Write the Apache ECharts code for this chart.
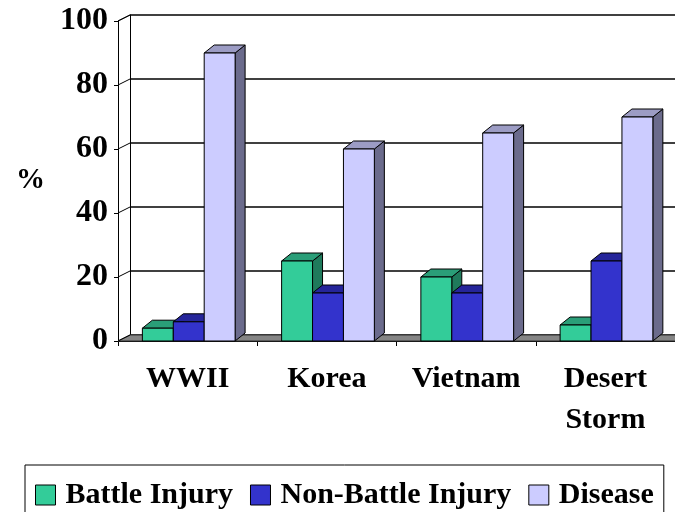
<!DOCTYPE html>
<html><head><meta charset="utf-8">
<script src="https://cdn.jsdelivr.net/npm/echarts@6/dist/echarts.min.js"></script>
<style>html,body{margin:0;padding:0;background:#fff}#c{width:675px;height:512px}</style>
</head><body><div id="c"></div>
<script>
// ---- data ----
const categories = ['WWII', 'Korea', 'Vietnam', 'Desert Storm'];
const seriesNames = ['Battle Injury', 'Non-Battle Injury', 'Disease'];
const battleInjury = [4, 25, 20, 5];
const nonBattleInjury = [6, 15, 15, 25];
const disease = [90, 60, 65, 70];
const yTicks = [0, 20, 40, 60, 80, 100];
const yAxisTitle = '%';

// ---- styles ----
const FONT = '"Liberation Serif", "Times New Roman", serif';
const palette = [
  { front: '#33CC99', top: '#2A9E78', side: '#1F7A5C' },
  { front: '#3333CC', top: '#25259A', side: '#1A1A80' },
  { front: '#CCCCFF', top: '#9C9CC4', side: '#6B6B8C' }
];
const WALL_DX = 12, WALL_DY = -6;
const BAR_DX = 10, BAR_DY = -8;
const BAR_START = 0.175, BAR_W = 0.222;

const seriesValues = [battleInjury, nonBattleInjury, disease];

function barRenderer(k) {
  return function (params, api) {
    const cat = api.value(0), v = api.value(1);
    const base = api.coord([cat, 0]);
    const top = api.coord([cat, v]);
    const band = api.size([1, 0])[0];
    const w = band * BAR_W;
    const l = base[0] - band / 2 + band * (BAR_START + k * BAR_W);
    const r = l + w, yb = base[1], yt = top[1];
    const c = palette[k];
    const st = { stroke: '#000', lineWidth: 1 };
    return {
      type: 'group',
      children: [
        { type: 'polygon', shape: { points: [[r, yt], [r + BAR_DX, yt + BAR_DY], [r + BAR_DX, yb + BAR_DY], [r, yb]] },
          style: Object.assign({ fill: c.side }, st) },
        { type: 'polygon', shape: { points: [[l, yt], [r, yt], [r + BAR_DX, yt + BAR_DY], [l + BAR_DX, yt + BAR_DY]] },
          style: Object.assign({ fill: c.top }, st) },
        { type: 'rect', shape: { x: l, y: yt, width: w, height: yb - yt },
          style: Object.assign({ fill: c.front }, st) }
      ]
    };
  };
}

function frameRenderer(params, api) {
  const band = api.size([1, 0])[0];
  const last = categories.length - 1;
  const p0 = api.coord([0, yTicks[0]]);
  const p1 = api.coord([last, yTicks[0]]);
  const pTop = api.coord([0, yTicks[yTicks.length - 1]]);
  const xl = p0[0] - band / 2, xr = p1[0] + band / 2, yb = p0[1], yt = pTop[1];
  const children = [
    { type: 'polygon', shape: { points: [[xl, yb], [xr, yb], [xr + WALL_DX, yb + WALL_DY], [xl + WALL_DX, yb + WALL_DY]] },
      style: { fill: '#858585', stroke: '#333', lineWidth: 1 } },
    { type: 'line', shape: { x1: xl, y1: yt, x2: xl + WALL_DX, y2: yt + WALL_DY }, style: { stroke: '#000', lineWidth: 1 } }
  ];
  yTicks.forEach(function (t) {
    const p = api.coord([0, t]);
    children.push({ type: 'line', shape: { x1: xl, y1: p[1], x2: xl + WALL_DX, y2: p[1] + WALL_DY }, style: { stroke: '#000', lineWidth: 1 } });
  });
  return { type: 'group', children: children };
}

const chart = echarts.init(document.getElementById('c'), null, { renderer: 'canvas' });
const series = [{
  type: 'custom', name: 'frame', xAxisIndex: 0, yAxisIndex: 0, z: 1,
  renderItem: frameRenderer, data: [[0, 0]], silent: true, legendHoverLink: false
}];
seriesNames.forEach(function (name, k) {
  series.push({
    type: 'custom', name: name, xAxisIndex: 0, yAxisIndex: 0, z: 2,
    renderItem: barRenderer(k),
    itemStyle: { color: palette[k].front, borderColor: '#000', borderWidth: 1 },
    data: seriesValues[k].map(function (v, i) { return [i, v]; })
  });
});

chart.setOption({
  animation: false,
  backgroundColor: '#fff',
  grid: [
    { left: 118, top: 21, width: 558, height: 320 },
    { left: 118 + WALL_DX, top: 21 + WALL_DY, width: 558, height: 320 }
  ],
  xAxis: [
    { type: 'category', gridIndex: 0, data: categories, boundaryGap: true,
      axisLine: { show: true, lineStyle: { color: '#000', width: 1 } },
      axisTick: { show: true, alignWithLabel: false, length: 5, lineStyle: { color: '#000' } },
      axisLabel: { margin: 18, color: '#000', fontFamily: FONT, fontWeight: 'bold', fontSize: 30, lineHeight: 41,
        interval: 0, formatter: function (s) { return s.replace(' ', '\n'); } },
      splitLine: { show: false } },
    { type: 'category', gridIndex: 1, data: categories, show: false }
  ],
  yAxis: [
    { type: 'value', gridIndex: 0, min: yTicks[0], max: yTicks[yTicks.length - 1], interval: yTicks[1] - yTicks[0],
      name: yAxisTitle, nameLocation: 'middle', nameRotate: 0, nameGap: 73,
      nameTextStyle: { color: '#000', fontFamily: FONT, fontWeight: 'bold', fontSize: 29, padding: [10, 0, 0, 0] },
      axisLine: { show: true, lineStyle: { color: '#000', width: 1 } },
      axisTick: { show: true, length: 4, lineStyle: { color: '#000' } },
      axisLabel: { margin: 10, color: '#000', fontFamily: FONT, fontWeight: 'bold', fontSize: 32 },
      splitLine: { show: false } },
    { type: 'value', gridIndex: 1, min: yTicks[0], max: yTicks[yTicks.length - 1], interval: yTicks[1] - yTicks[0],
      axisLine: { show: true, lineStyle: { color: '#000', width: 1 } },
      axisTick: { show: false }, axisLabel: { show: false },
      splitLine: { show: true, lineStyle: { color: '#000', width: 1.5 } } }
  ],
  legend: {
    data: seriesNames.map(function (n) { return { name: n, icon: 'rect' }; }),
    left: 25, top: 465, orient: 'horizontal',
    padding: [15, 10, 20, 10],
    borderColor: '#000', borderWidth: 1,
    itemWidth: 20, itemHeight: 20, itemGap: 17,
    itemStyle: { borderColor: '#000', borderWidth: 1 },
    selectedMode: false,
    textStyle: { color: '#000', fontFamily: FONT, fontWeight: 'bold', fontSize: 30, padding: [0, 0, 0, 5] }
  },
  series: series
});
</script></body></html>
